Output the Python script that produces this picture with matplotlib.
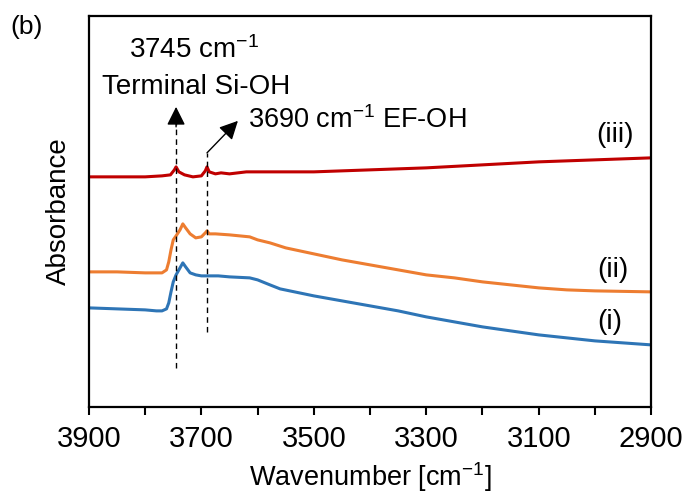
import matplotlib
matplotlib.use('Agg')
import matplotlib.pyplot as plt
from matplotlib.ticker import FixedLocator

plt.rcParams['font.family'] = ['Liberation Sans', 'DejaVu Sans']
plt.rcParams['mathtext.fontset'] = 'custom'
plt.rcParams['mathtext.rm'] = 'Liberation Sans'
plt.rcParams['mathtext.it'] = 'Liberation Sans'
plt.rcParams['mathtext.bf'] = 'Liberation Sans:bold'

# spectrum (i)
wn_i = [3900, 3850, 3800, 3780, 3770, 3762, 3758, 3754, 3750, 3745, 3738, 3733, 3728,
        3720, 3710, 3700, 3690, 3670, 3650, 3614, 3600, 3578, 3560, 3500, 3450, 3400,
        3350, 3300, 3250, 3200, 3150, 3100, 3050, 3000, 2950, 2900]
abs_i = [0.99, 0.98, 0.97, 0.96, 0.96, 0.98, 1.04, 1.15, 1.25, 1.32, 1.39, 1.44, 1.40,
         1.34, 1.32, 1.31, 1.31, 1.31, 1.30, 1.29, 1.27, 1.22, 1.18, 1.11, 1.06, 1.01,
         0.96, 0.90, 0.85, 0.80, 0.76, 0.72, 0.69, 0.66, 0.64, 0.62]

# spectrum (ii)
wn_ii = [3900, 3850, 3800, 3770, 3762, 3758, 3754, 3750, 3745, 3738, 3733, 3728, 3720,
         3710, 3700, 3693, 3690, 3686, 3675, 3650, 3614, 3600, 3578, 3550, 3500, 3450,
         3400, 3350, 3300, 3250, 3200, 3150, 3100, 3050, 3000, 2950, 2900]
abs_ii = [1.35, 1.35, 1.34, 1.34, 1.37, 1.45, 1.57, 1.67, 1.71, 1.77, 1.83, 1.79, 1.73,
          1.69, 1.70, 1.74, 1.76, 1.73, 1.73, 1.72, 1.70, 1.67, 1.64, 1.59, 1.53, 1.47,
          1.42, 1.37, 1.32, 1.29, 1.25, 1.22, 1.19, 1.17, 1.16, 1.155, 1.15]

# spectrum (iii)
wn_iii = [3900, 3850, 3800, 3770, 3755, 3748, 3745, 3740, 3730, 3715, 3700, 3693, 3690,
          3686, 3675, 3665, 3650, 3620, 3600, 3500, 3400, 3300, 3200, 3100, 3000, 2900]
abs_iii = [2.30, 2.30, 2.30, 2.31, 2.32, 2.37, 2.40, 2.35, 2.32, 2.30, 2.31, 2.36, 2.40,
           2.35, 2.33, 2.34, 2.33, 2.35, 2.35, 2.35, 2.37, 2.39, 2.42, 2.45, 2.47, 2.49]

xticks = [3900, 3700, 3500, 3300, 3100, 2900]
xminor = [3800, 3600, 3400, 3200, 3000]

fig = plt.figure(figsize=(6.84, 4.95), dpi=100)
ax = fig.add_axes([0.130, 0.178, 0.822, 0.790])

ax.plot(wn_i, abs_i, color='#2E75B6', lw=2.2)
ax.plot(wn_ii, abs_ii, color='#ED7D31', lw=2.2)
ax.plot(wn_iii, abs_iii, color='#C00000', lw=2.2)

# band markers
ax.plot([3745, 3745], [0.39, 2.87], color='black', lw=1.0, ls=(0, (4, 3)))
ax.annotate('', xy=(3745, 3.00), xytext=(3745, 2.80),
            arrowprops=dict(arrowstyle='-|>', mutation_scale=28, color='black', lw=1.0,
                            shrinkA=0, shrinkB=0))
ax.plot([3690, 3690], [0.75, 2.54], color='black', lw=1.0, ls=(0, (4, 3)))
ax.annotate('', xy=(3635, 2.86), xytext=(3690, 2.54),
            arrowprops=dict(arrowstyle='-|>', mutation_scale=28, color='black', lw=1.0,
                            shrinkA=0, shrinkB=0))

ax.text(3713, 3.57, '3745 cm$^{-1}$', ha='center', va='center', fontsize=20)
ax.text(3710, 3.20, 'Terminal Si-OH', ha='center', va='center', fontsize=20)
ax.text(3617, 2.87, '3690 cm$^{-1}$ EF-OH', ha='left', va='center', fontsize=19.5)

ax.text(2964, 2.72, '(iii)', ha='center', va='center', fontsize=20)
ax.text(2968, 1.37, '(ii)', ha='center', va='center', fontsize=20)
ax.text(2973, 0.85, '(i)', ha='center', va='center', fontsize=20)

ax.set_xlim(3900, 2900)
ax.set_ylim(0, 3.91)
ax.xaxis.set_major_locator(FixedLocator(xticks))
ax.xaxis.set_minor_locator(FixedLocator(xminor))
ax.set_yticks([])
ax.tick_params(axis='x', which='both', direction='out', length=6, width=1.5,
               labelsize=21, pad=7)
for s in ax.spines.values():
    s.set_linewidth(1.6)

ax.set_xlabel('Wavenumber [cm$^{-1}$]', fontsize=19.5, labelpad=5)
ax.set_ylabel('Absorbance', fontsize=20, labelpad=12)
fig.text(0.015, 0.945, '(b)', fontsize=19, va='center')

fig.savefig('out.png', dpi=100)
